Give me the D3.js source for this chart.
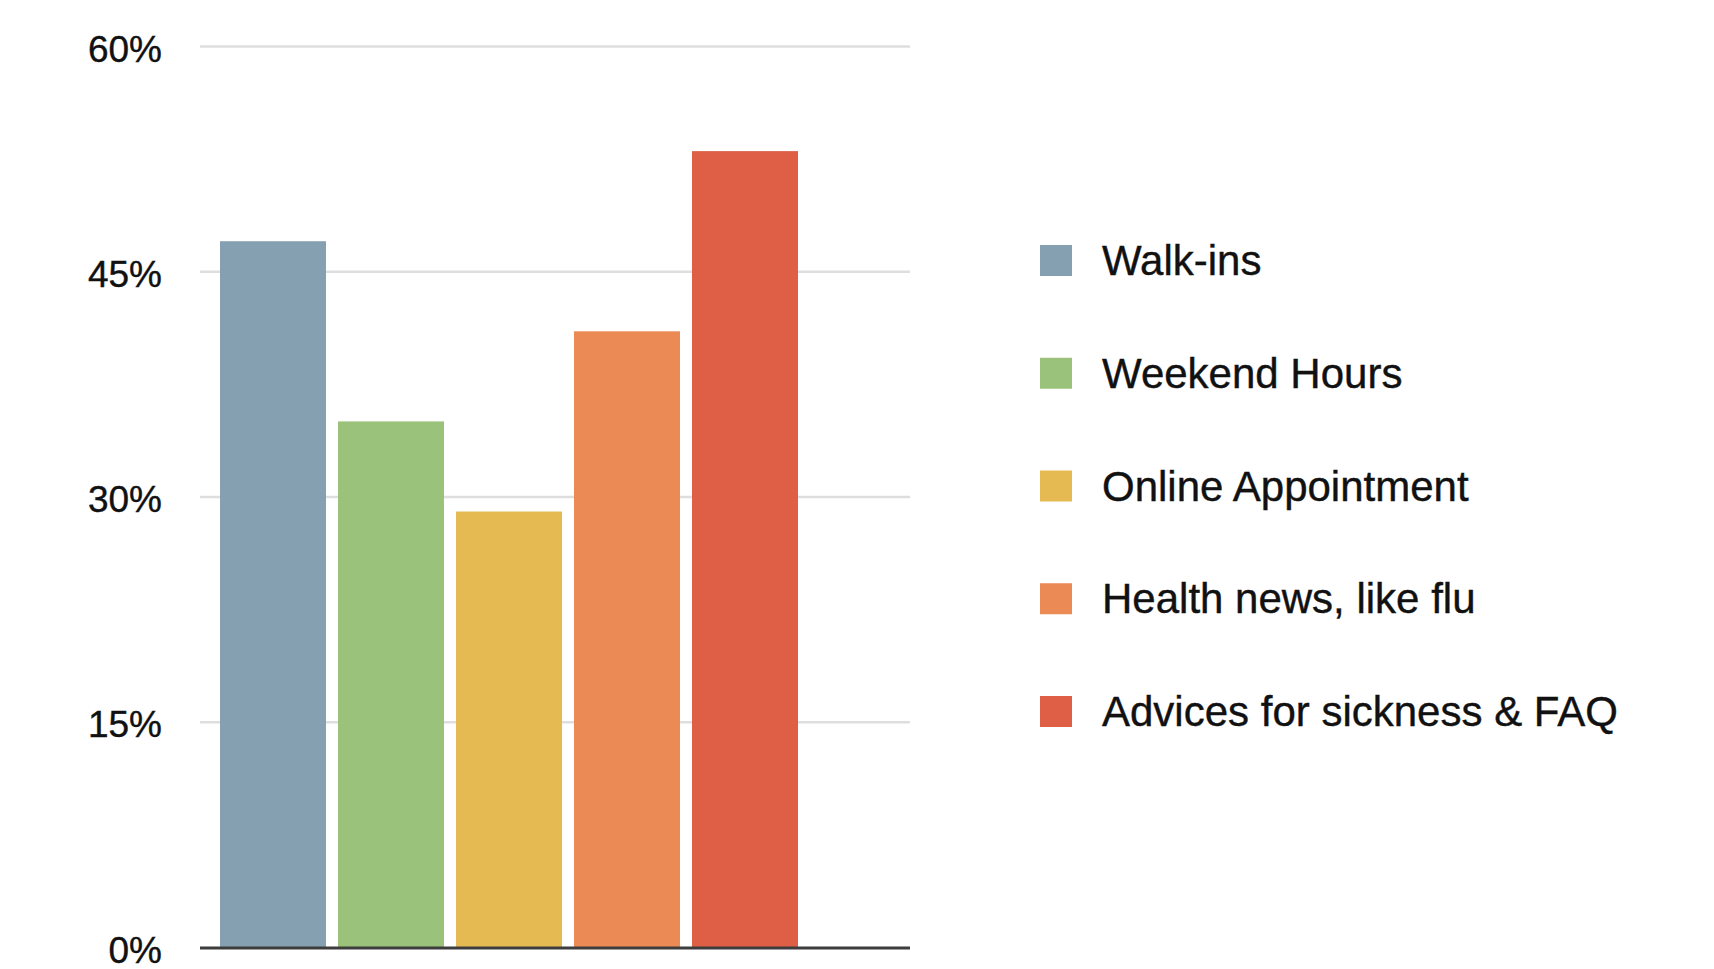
<!DOCTYPE html>
<html>
<head>
<meta charset="utf-8">
<script src="https://cdn.jsdelivr.net/npm/d3@7/dist/d3.min.js"></script>
<style>
  html, body { margin: 0; padding: 0; background: #fff; }
  svg { display: block; }
  text { font-family: "Liberation Sans", Arial, Helvetica, sans-serif; fill: #111; }
</style>
</head>
<body>
<svg id="chart" width="1714" height="969"></svg>
<script>
const categories = ["Walk-ins", "Weekend Hours", "Online Appointment", "Health news, like flu", "Advices for sickness & FAQ"];
const values = [47, 35, 29, 41, 53];
const colors = ["#85a1b1", "#9bc27a", "#e6ba52", "#ec8a55", "#df5f46"];
const yTicks = [0, 15, 30, 45, 60];

const svg = d3.select("#chart");

const plotLeft = 200, plotRight = 910, plotTop = 46, plotBottom = 947;

const y = d3.scaleLinear().domain([0, 60]).range([plotBottom, plotTop]);
const x = d3.scaleBand()
  .domain(categories)
  .range([220, 798])
  .paddingInner(0.1017)
  .paddingOuter(0);

// y axis with gridlines
const yAxis = d3.axisLeft(y)
  .tickValues(yTicks)
  .tickFormat(d => d + "%")
  .tickSizeInner(-(plotRight - plotLeft))
  .tickSizeOuter(0)
  .tickPadding(38);

const gy = svg.append("g")
  .attr("transform", `translate(${plotLeft},0)`)
  .call(yAxis);
gy.select(".domain").remove();
gy.selectAll(".tick line")
  .attr("stroke", "#dedede")
  .attr("stroke-width", 2.5)
  .attr("display", d => d === 0 ? "none" : null);
gy.selectAll(".tick text")
  .attr("font-size", 37)
  .attr("fill", "#111")
  .attr("stroke", "#111")
  .attr("stroke-width", 0.4)
  .attr("dy", null)
  .attr("y", 15)
  .style("font-family", "'Liberation Sans', Arial, Helvetica, sans-serif");

// bars
svg.append("g").selectAll("rect")
  .data(categories)
  .join("rect")
  .attr("x", d => x(d))
  .attr("y", (d, i) => y(values[i]))
  .attr("width", x.bandwidth())
  .attr("height", (d, i) => y(0) - y(values[i]))
  .attr("fill", (d, i) => colors[i]);

// baseline
svg.append("line")
  .attr("x1", plotLeft).attr("x2", plotRight)
  .attr("y1", y(0) + 1).attr("y2", y(0) + 1)
  .attr("stroke", "#3d3d3d")
  .attr("stroke-width", 3);

// legend
const legendY = d3.scalePoint().domain(categories).range([261, 712]);
const lg = svg.append("g").selectAll("g")
  .data(categories)
  .join("g")
  .attr("transform", d => `translate(1040,${legendY(d)})`);
lg.append("rect")
  .attr("x", 0).attr("y", -16)
  .attr("width", 32).attr("height", 31)
  .attr("fill", (d, i) => colors[i]);
lg.append("text")
  .attr("x", 62).attr("y", 14)
  .attr("font-size", 42)
  .attr("stroke", "#111")
  .attr("stroke-width", 0.4)
  .text(d => d);
</script>
</body>
</html>
